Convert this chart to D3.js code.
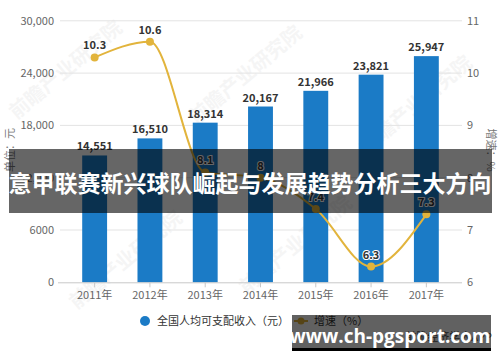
<!DOCTYPE html>
<html>
<head>
<meta charset="utf-8">
<script src="https://cdn.jsdelivr.net/npm/d3@7"></script>
<style>
  body { margin: 0; background: #fff; }
  svg { display: block; font-family: "Noto Sans CJK SC", "Noto Sans", sans-serif; }
</style>
</head>
<body>
<div id="vis"></div>
<script>
// chart data
const years = ["2011年", "2012年", "2013年", "2014年", "2015年", "2016年", "2017年"];
const income = [14551, 16510, 18314, 20167, 21966, 23821, 25947];
const growth = [10.3, 10.6, 8.1, 8, 7.4, 6.3, 7.3];
const leftTicks = [0, 6000, 12000, 18000, 24000, 30000];
const leftTickLabels = ["0", "6000", "12,000", "18,000", "24,000", "30,000"];
const rightTicks = [6, 7, 8, 9, 10, 11];
const legendLabels = ["全国人均可支配收入（元）", "增速（%）"];
const titleText = "意甲联赛新兴球队崛起与发展趋势分析三大方向";
const siteText = "www.ch-pgsport.com";

const FRAME_WIDTH = 500;
const FRAME_HEIGHT = 362;
const BAR_COLOR = "#1b7bc6";
const LINE_COLOR = "#e2b43c";

const FRAME = d3.select("#vis")
  .append("svg")
  .attr("width", FRAME_WIDTH)
  .attr("height", FRAME_HEIGHT);

// scales
const X = d3.scaleBand().domain(years).range([67, 454]).paddingInner(0.55).paddingOuter(0.275);
const YL = d3.scaleLinear().domain([0, 30000]).range([282.3, 20.8]);
const YR = d3.scaleLinear().domain([6, 11]).range([282.3, 20.8]);

// faint watermarks
[[70, 75], [250, 80], [420, 110], [130, 265], [300, 250]].forEach(p => {
  FRAME.append("text")
    .attr("transform", `translate(${p[0]},${p[1]}) rotate(-40)`)
    .attr("text-anchor", "middle")
    .attr("font-size", 20)
    .attr("font-weight", "bold")
    .attr("fill", "#000")
    .attr("opacity", 0.035)
    .text("前瞻产业研究院");
});

// gridlines
FRAME.append("g")
  .selectAll("line")
  .data(leftTicks.slice(1))
  .enter().append("line")
  .attr("x1", 60).attr("x2", 462)
  .attr("y1", d => YL(d)).attr("y2", d => YL(d))
  .attr("stroke", "#e3e3e3").attr("stroke-width", 1);

// left axis labels
FRAME.append("g")
  .selectAll("text")
  .data(leftTicks)
  .enter().append("text")
  .attr("x", 54).attr("y", d => YL(d) + 4)
  .attr("text-anchor", "end")
  .attr("font-size", 11).attr("fill", "#666")
  .text((d, i) => leftTickLabels[i]);

// right axis labels
FRAME.append("g")
  .selectAll("text")
  .data(rightTicks)
  .enter().append("text")
  .attr("x", 467).attr("y", d => YR(d) + 4)
  .attr("font-size", 11).attr("fill", "#666")
  .text(d => d);

// axis titles
FRAME.append("text")
  .attr("transform", "translate(14,150) rotate(-90)")
  .attr("text-anchor", "middle")
  .attr("font-size", 11).attr("fill", "#777")
  .text("单位：元");
FRAME.append("text")
  .attr("transform", "translate(487,150) rotate(90)")
  .attr("text-anchor", "middle")
  .attr("font-size", 11).attr("fill", "#777")
  .text("增速：%");

// bars
FRAME.append("g")
  .selectAll("rect")
  .data(income)
  .enter().append("rect")
  .attr("x", (d, i) => X(years[i]))
  .attr("y", d => YL(d))
  .attr("width", X.bandwidth())
  .attr("height", d => YL(0) - YL(d))
  .attr("fill", BAR_COLOR);

// bottom axis
const xAxis = FRAME.append("g")
  .attr("transform", `translate(0,${YL(0)})`)
  .call(d3.axisBottom(X).tickSize(5).tickSizeOuter(0));
xAxis.select(".domain").attr("d", "M58,0.5H462").attr("stroke", "#c8c8c8");
xAxis.selectAll(".tick line").attr("stroke", "#c8c8c8");
xAxis.selectAll(".tick text")
  .attr("font-size", 11).attr("fill", "#666").attr("y", 9)
  .attr("font-family", "\"Noto Sans CJK SC\", sans-serif");

// bar labels
FRAME.append("g")
  .selectAll("text")
  .data(income)
  .enter().append("text")
  .attr("x", (d, i) => X(years[i]) + X.bandwidth() / 2)
  .attr("y", d => YL(d) - 5)
  .attr("text-anchor", "middle")
  .attr("font-size", 11).attr("font-weight", "bold").attr("fill", "#333")
  .text(d => d3.format(",")(d));

// growth line
const cx = i => X(years[i]) + X.bandwidth() / 2;
FRAME.append("path")
  .datum(growth)
  .attr("fill", "none")
  .attr("stroke", LINE_COLOR)
  .attr("stroke-width", 2)
  .attr("d", d3.line().x((d, i) => cx(i)).y(d => YR(d)).curve(d3.curveMonotoneX));

FRAME.append("g")
  .selectAll("circle")
  .data(growth)
  .enter().append("circle")
  .attr("cx", (d, i) => cx(i))
  .attr("cy", d => YR(d))
  .attr("r", 4)
  .attr("fill", LINE_COLOR);

FRAME.append("g")
  .selectAll("text")
  .data(growth)
  .enter().append("text")
  .attr("x", (d, i) => cx(i))
  .attr("y", d => YR(d) - 8)
  .attr("text-anchor", "middle")
  .attr("font-size", 11).attr("font-weight", "bold").attr("fill", "#333")
  .attr("stroke", "#fff").attr("stroke-width", 2).attr("paint-order", "stroke")
  .text(d => d);

// legend
FRAME.append("circle").attr("cx", 145).attr("cy", 321).attr("r", 5).attr("fill", BAR_COLOR);
FRAME.append("text").attr("x", 157).attr("y", 325)
  .attr("font-size", 11).attr("fill", "#333").text(legendLabels[0]);
FRAME.append("line").attr("x1", 294).attr("x2", 308).attr("y1", 321).attr("y2", 321)
  .attr("stroke", LINE_COLOR).attr("stroke-width", 2);
FRAME.append("circle").attr("cx", 301).attr("cy", 321).attr("r", 3.5).attr("fill", LINE_COLOR);
FRAME.append("text").attr("x", 314).attr("y", 325)
  .attr("font-size", 11).attr("fill", "#333").text(legendLabels[1]);

// source text under the site banner
FRAME.append("text").attr("x", 492).attr("y", 341).attr("text-anchor", "end")
  .attr("font-size", 11).attr("fill", "#555").text("前瞻经济学人APP");

// title banner
FRAME.append("rect").attr("x", 9).attr("y", 149).attr("width", 483).attr("height", 64)
  .attr("fill", "#000").attr("opacity", 0.6);
FRAME.append("text").attr("x", 250).attr("y", 192).attr("text-anchor", "middle")
  .attr("font-size", 23).attr("font-weight", "bold").attr("fill", "#fff")
  .text(titleText);

// site banner
FRAME.append("rect").attr("x", 292).attr("y", 315).attr("width", 199).attr("height", 36)
  .attr("fill", "#000").attr("opacity", 0.62);
FRAME.append("rect").attr("x", 292).attr("y", 348).attr("width", 199).attr("height", 3)
  .attr("fill", "#000");
FRAME.append("text").attr("x", 390).attr("y", 343).attr("text-anchor", "middle")
  .attr("font-size", 19).attr("font-weight", "bold").attr("fill", "#fff")
  .attr("font-family", "\"Open Sans\", \"DejaVu Sans\", sans-serif")
  .text(siteText);
</script>
</body>
</html>
